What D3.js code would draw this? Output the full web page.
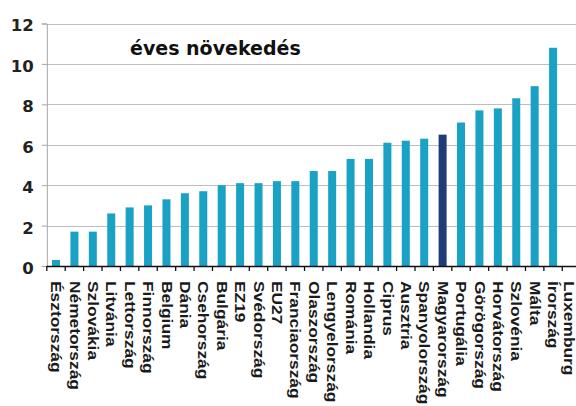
<!DOCTYPE html>
<html>
<head>
<meta charset="utf-8">
<script src="https://cdn.jsdelivr.net/npm/d3@7"></script>
<style>
  html, body { margin: 0; padding: 0; background: #fff; }
  svg { display: block; }
</style>
</head>
<body>
<svg id="chart" width="576" height="406"></svg>
<script>
// Annual growth by country (%), sorted ascending
const countries = [
  "Észtország", "Németország", "Szlovákia", "Litvánia", "Lettország",
  "Finnország", "Belgium", "Dánia", "Csehország", "Bulgária",
  "EZ19", "Svédország", "EU27", "Franciaország", "Olaszország",
  "Lengyelország", "Románia", "Hollandia", "Ciprus", "Ausztria",
  "Spanyolország", "Magyarország", "Portugália", "Görögország", "Horvátország",
  "Szlovénia", "Málta", "Írország", "Luxemburg"
];
const growth = [
  0.3, 1.7, 1.7, 2.6, 2.9,
  3.0, 3.3, 3.6, 3.7, 4.0,
  4.1, 4.1, 4.2, 4.2, 4.7,
  4.7, 5.3, 5.3, 6.1, 6.2,
  6.3, 6.5, 7.1, 7.7, 7.8,
  8.3, 8.9, 10.8, null
];
const highlighted = ["Magyarország"];
const yTicks = [0, 2, 4, 6, 8, 10, 12];
const title = "éves növekedés";

const data = countries.map((c, i) => ({ name: c, value: growth[i] }));

const svg = d3.select("#chart");
const W = 576;
const plotLeft = 46.8, step = 18.41;
const plotBottom = 266, plotTop = 23.5;

const x = d3.scaleBand()
  .domain(countries)
  .range([plotLeft, plotLeft + step * countries.length])
  .paddingInner(0.565)
  .paddingOuter(0.2825);

const y = d3.scaleLinear().domain([0, 12]).range([plotBottom, plotTop]);

// horizontal gridlines
svg.append("g")
  .selectAll("line")
  .data(yTicks.filter(t => t > 0))
  .join("line")
  .attr("x1", plotLeft).attr("x2", W)
  .attr("y1", d => Math.round(y(d)) + 0.5)
  .attr("y2", d => Math.round(y(d)) + 0.5)
  .attr("stroke", "#bdbdbd")
  .attr("stroke-width", 1.2);

// y axis
const yAxis = svg.append("g")
  .attr("transform", `translate(${plotLeft},0)`)
  .call(d3.axisLeft(y).tickValues(yTicks).tickSize(5).tickPadding(8));
yAxis.select(".domain").attr("stroke", "#a6a6a6");
yAxis.selectAll(".tick line").attr("stroke", "#a6a6a6");
yAxis.selectAll(".tick text")
  .attr("font-family", "'DejaVu Sans', sans-serif")
  .attr("font-weight", "bold")
  .attr("font-size", 16.5)
  .attr("fill", "#222")
  .attr("dy", "0.45em");

// bars
svg.append("g")
  .selectAll("rect")
  .data(data.filter(d => d.value != null))
  .join("rect")
  .attr("x", d => x(d.name))
  .attr("width", x.bandwidth())
  .attr("y", d => y(d.value))
  .attr("height", d => y(0) - y(d.value))
  .attr("fill", d => highlighted.includes(d.name) ? "#1f3c78" : "#1aa2c5");

// x axis line and category boundary ticks
const xAxis = svg.append("g");
xAxis.append("line")
  .attr("x1", plotLeft).attr("x2", W)
  .attr("y1", plotBottom + 0.5).attr("y2", plotBottom + 0.5)
  .attr("stroke", "#111").attr("stroke-width", 1.3);
const bounds = d3.range(countries.length + 1).map(i => plotLeft + i * x.step());
xAxis.selectAll("line.tick")
  .data(bounds.filter(b => b <= W))
  .join("line")
  .attr("class", "tick")
  .attr("x1", d => d).attr("x2", d => d)
  .attr("y1", plotBottom).attr("y2", plotBottom + 5)
  .attr("stroke", "#111").attr("stroke-width", 1.3);

// category labels, rotated to read downward (kept inside the right edge)
xAxis.selectAll("text")
  .data(countries)
  .join("text")
  .attr("transform", d => {
    const cx = Math.min(x(d) + x.bandwidth() / 2, W - 7);
    return `translate(${cx},281) rotate(90) scale(1.24,1)`;
  })
  .attr("dominant-baseline", "central")
  .attr("font-family", "'Liberation Sans', Arial, sans-serif")
  .attr("font-weight", "bold")
  .attr("font-size", 14)
  .attr("fill", "#1a1a1a")
  .text(d => d);

// chart title
svg.append("text")
  .attr("x", 130).attr("y", 55)
  .attr("font-family", "'DejaVu Sans', sans-serif")
  .attr("font-weight", "bold")
  .attr("font-size", 19)
  .attr("fill", "#111")
  .text(title);
</script>
</body>
</html>
